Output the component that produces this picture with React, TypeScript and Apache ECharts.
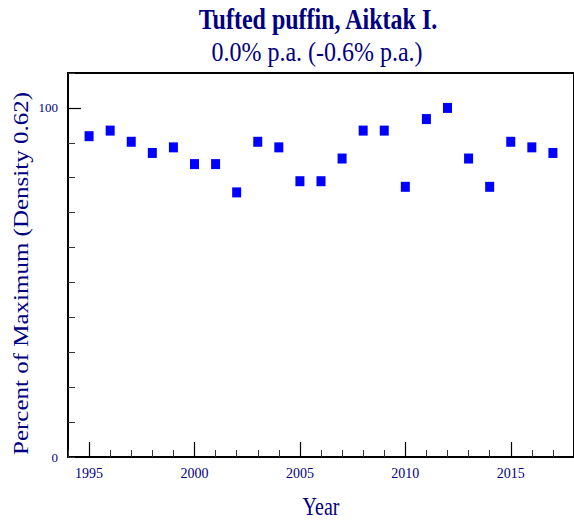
import React, { useEffect, useRef } from "react";
import * as echarts from "echarts";

const years = [1995, 1996, 1997, 1998, 1999, 2000, 2001, 2002, 2003, 2004, 2005, 2006, 2007, 2008, 2009, 2010, 2011, 2012, 2013, 2014, 2015, 2016, 2017];
const values = [91.9, 93.5, 90.3, 87.1, 88.7, 83.9, 83.9, 75.8, 90.3, 88.7, 79.0, 79.0, 85.5, 93.5, 93.5, 77.4, 96.8, 100, 85.5, 77.4, 90.3, 88.7, 87.1];
const xMajorTicks = [1995, 2000, 2005, 2010, 2015];
const yMajorTicks = [100];
const yLabelTicks = [0, 100];

const titleText = "Tufted puffin, Aiktak I.";
const subtitleText = "0.0% p.a. (-0.6% p.a.)";
const xName = "Year";
const yName = "Percent of Maximum (Density 0.62)";

const SERIF = '"Liberation Serif", "Times New Roman", serif';
const NAVY = "#000080";

const X_MIN = 1994;
const X_MAX = 2018;
const Y_MIN = 0;
const Y_MAX = 110;
// tick-mark lengths expressed in axis units (style, not data)
const X_MAJOR_TICK_LEN = 4.3; // ~15px
const Y_MAJOR_TICK_LEN = 0.62; // ~13px

const xMinorTicks: number[] = [];
for (let v = X_MIN; v <= X_MAX; v += 1) xMinorTicks.push(v);
const yMinorTicks: number[] = [];
for (let v = Y_MIN; v <= Y_MAX; v += 10) yMinorTicks.push(v);

export default function App() {
  const ref = useRef<HTMLDivElement>(null);
  useEffect(() => {
    if (!ref.current) return;
    const chart = echarts.init(ref.current, null, { renderer: "svg" });
    const blackLine = { show: true, onZero: false, lineStyle: { color: "#000", width: 2 } };
    const majorTickLines = [
      ...xMajorTicks.map((v) => [{ coord: [v, Y_MIN] }, { coord: [v, Y_MIN + X_MAJOR_TICK_LEN] }]),
      ...yMajorTicks.map((v) => [{ coord: [X_MIN, v] }, { coord: [X_MIN + Y_MAJOR_TICK_LEN, v] }]),
    ];
    const option = {
      animation: false,
      backgroundColor: "#ffffff",
      grid: {
        left: 68,
        top: 73,
        right: -2,
        bottom: 67,
        show: true,
        borderColor: "#000",
        borderWidth: 2,
        backgroundColor: "transparent",
      },
      xAxis: {
        type: "value",
        min: X_MIN,
        max: X_MAX,
        interval: 1,
        position: "bottom",
        axisLine: blackLine,
        axisTick: { show: true, inside: true, length: 7, customValues: xMinorTicks, lineStyle: { color: "#333", width: 1 } },
        axisLabel: {
          show: true,
          customValues: xMajorTicks,
          margin: 9,
          color: NAVY,
          fontFamily: SERIF,
          fontSize: 14,
          formatter: (v: number) => (xMajorTicks.indexOf(v) >= 0 ? String(v) : ""),
        },
        splitLine: { show: false },
      },
      yAxis: {
        type: "value",
        min: Y_MIN,
        max: Y_MAX,
        interval: 10,
        position: "left",
        axisLine: blackLine,
        axisTick: { show: true, inside: true, length: 7, customValues: yMinorTicks, lineStyle: { color: "#333", width: 1 } },
        axisLabel: {
          show: true,
          customValues: yLabelTicks,
          margin: 10,
          color: NAVY,
          fontFamily: SERIF,
          fontSize: 13,
          formatter: (v: number) => (yLabelTicks.indexOf(v) >= 0 ? String(v) : ""),
        },
        splitLine: { show: false },
      },
      graphic: [
        {
          type: "text",
          x: 318,
          y: 19.5,
          scaleY: 1.2,
          style: { text: titleText, fontSize: 24, fontWeight: "bold", fontFamily: SERIF, fill: NAVY, align: "center", verticalAlign: "middle" },
        },
        {
          type: "text",
          x: 317,
          y: 52,
          scaleY: 1.18,
          style: { text: subtitleText, fontSize: 24, fontFamily: SERIF, fill: NAVY, align: "center", verticalAlign: "middle" },
        },
        {
          type: "text",
          x: 321,
          y: 506.5,
          scaleY: 1.25,
          style: { text: xName, fontSize: 20, fontFamily: SERIF, fill: NAVY, align: "center", verticalAlign: "middle" },
        },
        {
          type: "text",
          x: 21,
          y: 273.5,
          rotation: Math.PI / 2,
          scaleX: 1.25,
          style: { text: yName, fontSize: 20, fontFamily: SERIF, fill: NAVY, align: "center", verticalAlign: "middle" },
        },
      ],
      series: [
        {
          type: "scatter",
          symbol: "rect",
          symbolSize: [9, 10],
          itemStyle: { color: "#0000ff", opacity: 1 },
          data: years.map((y, i) => [y, values[i]]),
          markLine: {
            silent: true,
            symbol: ["none", "none"],
            label: { show: false },
            lineStyle: { color: "#000", width: 1.2, type: "solid", opacity: 1 },
            emphasis: { disabled: true },
            data: majorTickLines,
          },
        },
      ],
    };
    chart.setOption(option as any);
    return () => chart.dispose();
  }, []);
  return <div ref={ref} style={{ position: "fixed", left: 0, top: 0, width: 574, height: 524 }} />;
}
